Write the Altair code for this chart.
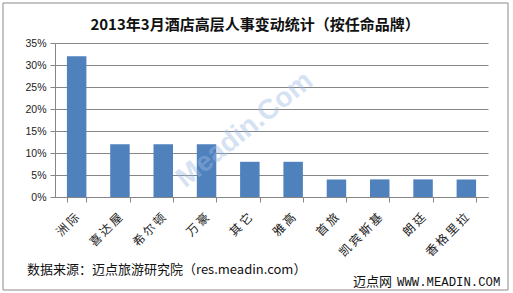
import altair as alt
import pandas as pd

categories = ["洲际", "喜达屋", "希尔顿", "万豪", "其它", "雅高", "首旅", "凯宾斯基", "朗廷", "香格里拉"]
shares = [0.32, 0.12, 0.12, 0.12, 0.08, 0.08, 0.04, 0.04, 0.04, 0.04]
y_ticks = [0, 0.05, 0.10, 0.15, 0.20, 0.25, 0.30, 0.35]
title_text = "2013年3月酒店高层人事变动统计（按任命品牌）"
source_text = "数据来源：迈点旅游研究院（res.meadin.com）"
brand_cn = "迈点网"
brand_url = "WWW.MEADIN.COM"
watermark_text = "Meadin.Com"

df = pd.DataFrame({"品牌": categories, "占比": shares})

W, H = 433, 154
PAD = {"left": 55, "top": 43, "right": 25, "bottom": 96}
GRAY = "#868686"
CJK = "Noto Sans CJK SC"
THIN = "\u2009"

bars = alt.Chart(df).mark_bar(color="#4F81BD").encode(
    x=alt.X(
        "品牌:N",
        sort=categories,
        scale=alt.Scale(paddingInner=0.55, paddingOuter=0.275),
        axis=alt.Axis(
            title=None,
            labelAngle=-45,
            labelAlign="right",
            labelBaseline="middle",
            labelPadding=13,
            tickBand="extent",
            tickSize=5,
            tickColor=GRAY,
            domainColor=GRAY,
            labelFont=CJK,
            labelFontSize=12,
            labelColor="#222222",
            labelExpr="join(split(datum.label, ''), '" + THIN + "')",
            grid=False,
        ),
    ),
    y=alt.Y(
        "占比:Q",
        scale=alt.Scale(domain=[0, 0.35], nice=False),
        axis=alt.Axis(
            title=None,
            values=y_ticks,
            format=".0%",
            grid=True,
            gridColor=GRAY,
            gridWidth=1,
            tickSize=5,
            tickColor=GRAY,
            domainColor=GRAY,
            labelFont="Liberation Sans",
            labelFontSize=10.5,
            labelColor="#222222",
            labelPadding=4,
        ),
    ),
)


def text_layer(text, x, y, **kw):
    return alt.Chart(pd.DataFrame({"t": [text]})).mark_text(**kw).encode(
        text="t:N", x=alt.value(x), y=alt.value(y)
    )


border = alt.Chart(pd.DataFrame({"t": ["frame"]})).mark_rect(
    fillOpacity=0, stroke="#8a8a8a", strokeWidth=1
).encode(x=alt.value(-52), x2=alt.value(453), y=alt.value(-40), y2=alt.value(247))

watermark = text_layer(
    watermark_text, 190, 87,
    font="Liberation Sans", fontSize=28, fontWeight="bold",
    color="#9DBCE3", opacity=0.42, angle=321, align="center", baseline="middle",
)

title = text_layer(
    title_text, 200, -18,
    font=CJK, fontSize=15, fontWeight="bold", color="#111111",
    align="center", baseline="middle",
)

source = text_layer(
    source_text, -28, 227,
    font=CJK, fontSize=13, color="#111111", align="left", baseline="middle",
)

brand1 = text_layer(
    brand_cn, 298, 239,
    font=CJK, fontSize=13, color="#111111", align="left", baseline="middle",
)
brand2 = text_layer(
    brand_url, 342, 239,
    font="Liberation Mono", fontSize=12.3, color="#111111", align="left", baseline="middle",
)

chart = alt.layer(border, bars, watermark, title, source, brand1, brand2).properties(
    width=W,
    height=H,
    padding=PAD,
    autosize=alt.AutoSizeParams(type="none"),
    background="white",
).configure_view(stroke=None)

chart.save("out.html", embed_options={"renderer": "svg", "actions": False})
